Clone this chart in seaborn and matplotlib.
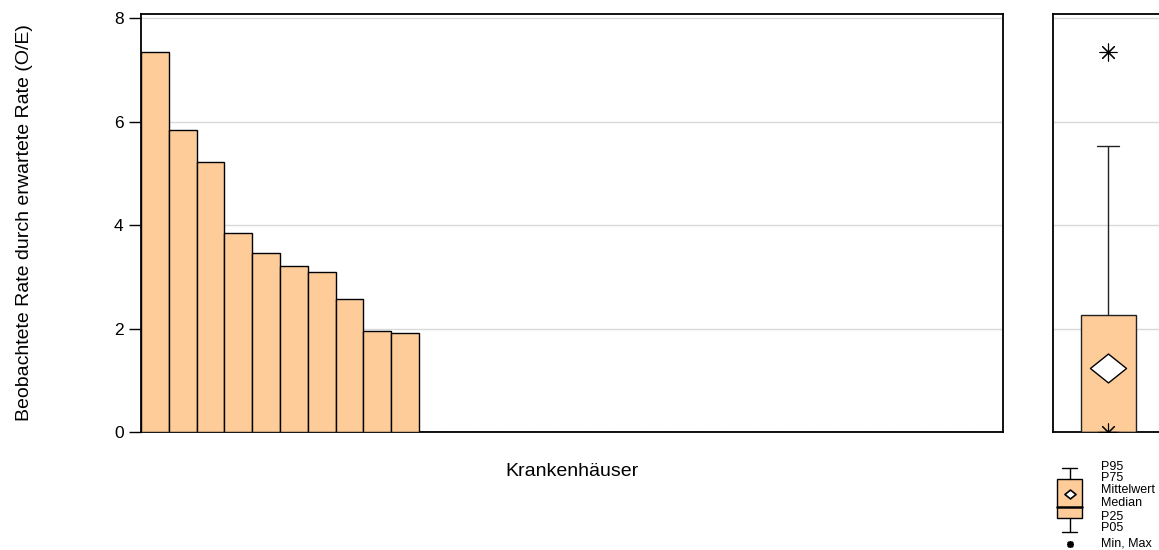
import numpy as np
import matplotlib
matplotlib.use("Agg")
import matplotlib.pyplot as plt
from matplotlib.path import Path
from matplotlib.patches import Rectangle
import seaborn as sns


# O/E je Krankenhaus, absteigend sortiert (31 Haeuser)
oe_values = [7.35, 5.83, 5.22, 3.84, 3.46, 3.20, 3.09, 2.58, 1.95, 1.91,
             0.0, 0.0, 0.0, 0.0, 0.0, 0.0, 0.0, 0.0, 0.0, 0.0, 0.0,
             0.0, 0.0, 0.0, 0.0, 0.0, 0.0, 0.0, 0.0, 0.0, 0.0]
hospitals = [f"KH{i + 1:02d}" for i in range(len(oe_values))]
y_ticks = [0, 2, 4, 6, 8]
legend_labels = ["P95", "P75", "Mittelwert", "Median", "P25", "P05", "Min, Max"]

bar_color = "#FECC99"
grid_color = "#d9d9d9"

sns.set_style("white")
plt.rcParams['font.family'] = ['Liberation Sans', 'DejaVu Sans']
plt.rcParams['text.color'] = "black"
plt.rcParams['axes.labelcolor'] = "black"
plt.rcParams['ytick.color'] = "black"

W, H = 1159, 550
fig = plt.figure(figsize=(W / 100, H / 100), dpi=100)

# ====================================================================
# Balken je Krankenhaus
ax = fig.add_axes([141 / W, (H - 432) / H, (1003 - 141) / W, (432 - 14) / H])
sns.barplot(x=hospitals, y=oe_values, color=bar_color, saturation=1,
            width=1, edgecolor="black", linewidth=1, ax=ax, zorder=3)
ax.set_xlim(-0.5, len(oe_values) - 0.5)
ax.set_ylim(0, 8.08)
ax.set_yticks(y_ticks)
ax.set_xticks([])
ax.tick_params(axis="y", direction="out", length=9, width=1, color="black",
               labelcolor="black", labelsize=12.5, left=True)
ax.yaxis.grid(True, color=grid_color, linewidth=1)
ax.set_axisbelow(True)
for sp in ax.spines.values():
    sp.set_color("black")
    sp.set_linewidth(1.3)
ax.set_xlabel("Krankenhäuser", fontsize=14, labelpad=22)
ax.set_ylabel("Beobachtete Rate durch erwartete Rate (O/E)", fontsize=14)
ax.yaxis.set_label_coords((33 - 141) / (1003 - 141), 0.5)

# ====================================================================
# Boxplot rechts (Whisker = P05 / P95, interpoliert)
ax2 = fig.add_axes([1053 / W, (H - 432) / H, 110 / W, (432 - 14) / H])
diamond = Path([(-1, 0), (0, 0.8), (1, 0), (0, -0.8), (-1, 0)],
               [Path.MOVETO, Path.LINETO, Path.LINETO, Path.LINETO, Path.CLOSEPOLY])
sns.boxplot(y=oe_values, ax=ax2, whis=(5, 95), width=0.5, color=bar_color,
            saturation=1, linecolor="#222222", linewidth=1, showfliers=False,
            showmeans=True, capwidths=0.2,
            meanprops=dict(marker=diamond, markerfacecolor="white",
                           markeredgecolor="black", markersize=26,
                           markeredgewidth=1),
            zorder=3)

# matplotlib setzt die Whisker auf den naechsten Datenpunkt -> auf P05/P95 setzen
p05, p25, p75, p95 = np.percentile(oe_values, [5, 25, 75, 95])
for ln in ax2.lines:
    yd = np.asarray(ln.get_ydata(), dtype=float)
    if len(yd) != 2:
        continue
    if np.isclose(yd[0], p75) and yd[1] > p75:          # oberer Whisker
        ln.set_ydata([p75, p95])
    elif np.isclose(yd[0], yd[1]) and yd[0] > p75:       # obere Kappe
        ln.set_ydata([p95, p95])
    elif np.isclose(yd[0], p25) and yd[1] < p25:         # unterer Whisker
        ln.set_ydata([p25, p05])
    elif np.isclose(yd[0], yd[1]) and yd[0] < p25:       # untere Kappe
        ln.set_ydata([p05, p05])

sns.scatterplot(x=[0, 0], y=[min(oe_values), max(oe_values)], ax=ax2,
                marker=(8, 2, 0), s=150, color="black", linewidth=0.8,
                zorder=4, legend=False)
ax2.set_xlim(-0.5, 0.5)
ax2.set_ylim(0, 8.08)
ax2.set_yticks(y_ticks)
ax2.set_xticks([])
ax2.tick_params(left=False, labelleft=False)
ax2.yaxis.grid(True, color=grid_color, linewidth=1)
ax2.set_axisbelow(True)
ax2.set_ylabel("")
for sp in ax2.spines.values():
    sp.set_color("black")
    sp.set_linewidth(1.3)

# ====================================================================
# Legende (Pixelkoordinaten)
lax = fig.add_axes([1040 / W, 0, 119 / W, 95 / H])
lax.set_xlim(1040, 1159)
lax.set_ylim(550, 455)
lax.axis("off")
cx = 1069.5
lax.plot([cx, cx], [468, 479], color="black", lw=1)
lax.plot([cx, cx], [518, 532], color="black", lw=1)
lax.plot([1062, 1077], [468, 468], color="black", lw=1)
lax.plot([1062, 1077], [532, 532], color="black", lw=1)
lax.add_patch(Rectangle((1057, 479), 25, 39, facecolor=bar_color,
                        edgecolor="black", lw=1))
lax.plot([1057, 1082], [507, 507], color="black", lw=1.8)
lax.plot([cx], [494], marker=diamond, markersize=8, markerfacecolor="white",
         markeredgecolor="black", markeredgewidth=1.2)
lax.plot([cx], [544], marker=(8, 2, 0), markersize=5, color="black", mew=1.2)
label_y = [467, 478, 490, 503, 517, 528, 543]
for txt, yy in zip(legend_labels, label_y):
    lax.text(1101, yy, txt, fontsize=9, va="center", ha="left")

fig.savefig("out.png", dpi=100)
